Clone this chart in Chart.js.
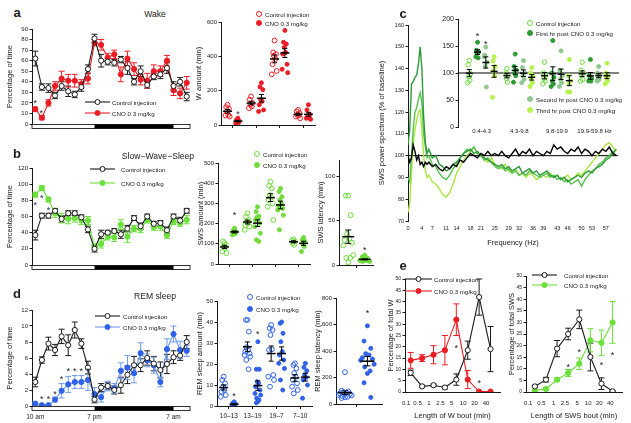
<!DOCTYPE html>
<html>
<head>
<meta charset="utf-8">
<title>CNO sleep figure</title>
<script src="https://cdn.jsdelivr.net/npm/chart.js@4.4.1/dist/chart.umd.min.js"></script>
<style>
  body { margin: 0; width: 631px; height: 423px; position: relative; overflow: hidden; background: #fff;
         font-family: "Liberation Sans", Arial, sans-serif; color: #1a1a1a; }
  canvas { position: absolute; }
  .lbl { position: absolute; white-space: nowrap; transform: translate(-50%, -50%); }
  .letter { font-weight: bold; font-size: 13px; }
  .ttl { font-size: 8.6px; }
  .key { position: absolute; height: 10px; display: flex; align-items: center; font-size: 6.2px; white-space: nowrap; }
</style>
</head>
<body>
<script>
// ---------- data ----------
const hours = [0,1,2,3,4,5,6,7,8,9,10,11,12,13,14,15,16,17,18,19,20,21,22,23];
const timeTicks = [0, 9, 21];
const timeLabels = ['10 am', '7 pm', '7 am'];
const darkPhase = [9, 21];

// a - wake, % of time
const wakeCtrl    = [62,35,34,27,36,31,28,35,52,81,60,59,58,61,53,40,50,37,45,47,53,36,40,26];
const wakeCtrlErr = [7,3,4,3,4,5,3,4,4,4,6,3,3,3,6,3,5,3,3,4,5,4,4,4];
const wakeCno     = [14,6,20,36,43,41,41,38,43,77,75,63,66,47,62,52,42,41,50,50,60,32,29,39];
const wakeCnoErr  = [2,2,3,4,7,6,6,4,5,3,5,4,4,7,7,6,5,7,6,5,5,5,5,6];
const wakeStars   = [[0, 21], [0.9, 12]];

// b - SWS, % of time
const swsCtrl    = [37,61,61,67,57,64,64,59,44,20,38,40,42,38,45,58,48,60,51,52,43,60,55,67];
const swsCtrlErr = [6,3,3,3,4,3,3,3,4,4,5,3,3,5,4,3,4,3,3,3,4,3,4,3];
const swsCno     = [87,95,81,64,58,57,58,55,55,22,26,35,34,50,35,45,45,56,47,48,37,54,52,56];
const swsCnoErr  = [3,3,3,5,6,6,5,5,5,4,5,4,5,6,7,4,5,4,4,5,4,4,4,5];
const swsStars   = [[0, 76], [1, 85], [2, 70]];

// d - REM, % of time
const remCtrl    = [3.0,5.75,7.8,7.0,8.7,7.6,9.5,7.8,4.8,0.8,2.3,2.5,2.0,2.6,3.9,5.1,5.1,6.0,5.3,4.5,5.25,6.1,6.3,8.0];
const remCtrlErr = [0.6,0.4,0.8,0.7,0.9,1.3,1.0,0.6,0.8,0.4,0.5,0.4,0.5,1.0,1.1,1.1,0.8,0.9,0.9,1.0,1.2,0.8,0.6,0.8];
const remCno     = [0.3,0.1,0.1,0.8,1.9,2.7,3.0,3.0,3.25,1.5,1.1,2.5,2.2,4.4,4.8,4.1,6.6,5.7,5.1,3.0,7.1,9.0,7.0,6.9];
const remCnoErr  = [0.2,0.1,0.1,0.3,0.9,1.0,0.8,0.8,1.3,0.8,0.6,0.6,0.6,1.0,1.5,1.2,1.3,0.8,1.0,0.6,1.3,1.0,1.1,0.7];
const remStars   = [[1, 1.0], [2, 1.0], [3, 1.7], [4, 3.5], [5, 4.6], [6, 4.6], [7, 4.6], [8, 4.6]];

// amounts per time block (min)
const blocks = ['10–13', '13–19', '19–7', '7–10'];
const blockPos = [1, 2, 3, 4];
const wAmtCtrl = [[118,104,95,79,59,55,49],[167,148,128,118,108,98],[492,423,413,403,384,354,315,295],[88,79,69,59,55,49,39]];
const wAmtCno  = [[40,30,22,18,14,10],[246,222,206,148,138,118,88,79],[551,482,472,452,423,413,354,325,305],[118,88,62,52,45,39,33]];
const sAmtCtrl = [[103,112,95,87,78,62,54],[251,234,218,210,202,193,185,169],[407,387,374,341,329,317,300,284,218],[123,117,112,103,95]];
const sAmtCno  = [[177,167,161,154,150,144],[283,259,237,231,225,218,202,185,152,120,112],[374,358,333,317,300,287,275,267,242,169],[131,120,112,102,87,62]];
const rAmtCtrl = [[14,12.4,10.8,9.2,7.6,6.8,5.2,4.4],[41,41,35.4,28,26.7,25.9,25,24.3,23.5,21.9,17.5],[38.6,37,36.2,33.8,27,26.7,14.8,14,12.4,9.2],[20.3,19.5,17.9,15.6,14,12.4,10.8,9.2,7.6,6]];
const rAmtCno  = [[2,1.3,1,0.5,0.2,0],[30.6,17.5,17.5,11.6,10.8,9.2,7.6,6,5.2,3.7,2.9,2.1,1.5],[40,39.4,34.6,30.6,25.9,24.3,21.9,20.3,17.9,12.4,7.6],[20.3,18.4,16.8,14.8,13.6,12.4,10,3.7]];

// latencies (min)
const swsLatCtrl = [78,78,56,35,30,28,25,22,11,8,8,3];
const swsLatCno  = [11,9,8,7,6,6,5,5,4,4,5,6];
const remLatCtrl = [240,100,95,90,85,80,75,70,65,60,55,50,45];
const remLatCno  = [590,475,420,380,370,350,340,330,300,280,250,230,160,50];

// c - SWS power spectrum (% of baseline)
const freqs = [0,0.5,1,1.5,2,2.5,3,3.5,4,4.5,5,5.5,6,7,8,9,10,11,12,13,14,15,16,17,18,19,20,21,22,23,24,25,26,27,28,29,30,31,32,33,34,35,36,37,38,39,40,41,42,43,44,45,46,47,48,49,50,51,52,53,54,55,56,57,58,59,60];
const freqTicks = [0,4,7,11,14,18,21,25,29,32,36,39,43,46,50,53,57];
const specCtrl = [100,97,99,105,102,98,100,96,97,95,97,96,97,
  95,96,94,93,95,94,96,95,98,97,99,101,100,99,101,100,102,100,101,100,102,100,99,101,103,100,102,101,103,100,
  102,101,100,102,101,105,103,104,102,101,103,102,104,101,103,102,100,102,101,103,102,104,101,100];
const specH1 = [105,112,133,134,136,137,142,150,140,118,106,101,103,
  99,100,96,95,93,94,96,97,99,101,102,103,101,102,100,99,98,97,96,95,96,94,95,93,94,95,92,93,94,92,
  93,91,92,93,91,90,91,89,90,88,89,90,91,90,92,93,92,94,95,96,98,99,101,103];
const specH2 = [90,88,100,112,120,122,126,129,124,110,104,99,100,
  96,95,92,90,89,91,94,96,99,101,103,102,104,101,100,98,99,97,95,94,95,93,94,92,93,91,92,91,93,92,
  91,90,91,92,90,91,89,90,88,89,87,88,89,86,89,91,93,94,96,97,99,100,102,100];
const specH3 = [74,78,92,105,112,116,120,121,112,100,93,90,91,
  88,87,85,82,81,83,87,92,95,98,100,102,104,101,100,98,97,99,96,95,94,96,93,92,94,91,92,90,92,91,
  89,90,91,90,92,90,91,89,90,91,89,90,92,91,93,95,97,99,101,103,105,106,104,102];

// c inset - band power per animal
const bands = ['0.4-4.3', '4.3-9.8', '9.8-19.9', '19.9-59.8 Hz'];
const bandCtrl = [[123,115,99,93,86,82],[108,100,95,90,83],[120,100,95,90,85,80],[120,105,100,95,88,85]];
const bandH1   = [[157,142,139,136,128,130],[135,112,105,100,95,83],[160,100,92,85,80,75],[125,95,90,88,85,85]];
const bandH2   = [[148,133,120,112,74,130],[123,110,100,95,88,82],[141,105,95,88,82,75],[112,100,95,92,88,85]];
const bandH3   = [[130,122,112,104,95,55],[110,100,95,90,82,75],[125,95,85,80,65,65],[118,100,95,92,85,80]];

// e - bout length distributions
const boutLabels = ['0.1', '0.5', '1', '2.5', '5', '10', '20', '40'];
const boutPos = [0.5,1.5,2.5,3.5,4.5,5.5,6.5,7.5];
const wBoutCtrl    = [8.5,2.5,3.0,2.0,5.5,18.5,42,19];
const wBoutCtrlErr = [1.2,0.5,0.5,0.6,2.5,4,8,10];
const wBoutCno     = [14,15,16.5,18.5,32,5.5,0.2,0.2];
const wBoutCnoErr  = [3.5,1.5,4,6.5,7,4,0,0];
const wBoutStars   = [[4.5, 20], [6.5, 4.5]];
const sBoutCtrl    = [2.4,5.3,18.7,25,31.3,15.1,3.6,0.3];
const sBoutCtrlErr = [0.5,1,3.5,2.5,4,6,2.5,0.2];
const sBoutCno     = [0.7,1.3,5.3,8.2,12.2,22.3,21.2,30];
const sBoutCnoErr  = [0.3,0.5,0.8,1.5,2.5,5,5.5,9];
const sBoutStars   = [[3.5, 11.5], [4.5, 18], [6.5, 12.2], [7.5, 16.6]];

// ---------- styles ----------
const INK = '#1a1a1a';
const RED = '#ec1c24';
const LIME = '#6ae03a';
const BLUE = '#2f62e6', BLUE_LT = '#6f9af0';
const SG = '#6fdc3c';
const H1C = '#2f9a3a', H2C = '#56c24e', H3C = '#a9e83e';
const H1M = '#2d9a35', H2M = '#8fc98f', H3M = '#b6f24c';
const CTRL_OFF = -0.22, CNO_OFF = 0.22;
const jit = [0, -0.5, 0.5, -0.25, 0.25, -0.75, 0.75, -1, 1, -0.4, 0.4];

Chart.defaults.font.family = '"Liberation Sans", Arial, sans-serif';
Chart.defaults.font.size = 6;
Chart.defaults.color = INK;
Chart.defaults.animation = false;
Chart.defaults.events = [];
Chart.defaults.plugins.legend.display = false;
Chart.defaults.plugins.tooltip.enabled = false;

// ---------- plugins ----------
function seg(ctx, x0, y0, x1, y1) { ctx.moveTo(x0, y0); ctx.lineTo(x1, y1); }

const errBars = {
  id: 'errBars',
  beforeDatasetsDraw(chart) {
    const ctx = chart.ctx, xs = chart.scales.x, ys = chart.scales.y;
    chart.data.datasets.forEach(ds => {
      if (!ds.err) return;
      ctx.save();
      ctx.strokeStyle = ds.errColor;
      ctx.lineWidth = 1;
      ctx.beginPath();
      ds.data.forEach((p, j) => {
        const e = ds.err[j];
        if (!e) return;
        const x = xs.getPixelForValue(p.x);
        const a = ys.getPixelForValue(p.y - e), b = ys.getPixelForValue(p.y + e);
        seg(ctx, x, a, x, b);
        seg(ctx, x - 3, a, x + 3, a);
        seg(ctx, x - 3, b, x + 3, b);
      });
      ctx.stroke();
      ctx.restore();
    });
  }
};

const meanBars = {
  id: 'meanBars',
  afterDatasetsDraw(chart, args, opts) {
    if (!opts || !opts.half) return;
    const ctx = chart.ctx, xs = chart.scales.x, ys = chart.scales.y;
    ctx.save();
    ctx.strokeStyle = '#000';
    chart.data.datasets.forEach(ds => {
      if (ds.center === undefined) return;
      const v = ds.data.map(p => p.y), n = v.length;
      const m = v.reduce((s, a) => s + a, 0) / n;
      const sd = Math.sqrt(v.reduce((s, a) => s + (a - m) * (a - m), 0) / (n - 1));
      const se = sd / Math.sqrt(n);
      const x = xs.getPixelForValue(ds.center), y = ys.getPixelForValue(m);
      const a = ys.getPixelForValue(m - se), b = ys.getPixelForValue(m + se);
      ctx.lineWidth = 1.5;
      ctx.beginPath(); seg(ctx, x - opts.half, y, x + opts.half, y); ctx.stroke();
      ctx.lineWidth = 1;
      ctx.beginPath();
      seg(ctx, x, a, x, b);
      seg(ctx, x - opts.cap, a, x + opts.cap, a);
      seg(ctx, x - opts.cap, b, x + opts.cap, b);
      ctx.stroke();
    });
    ctx.restore();
  }
};

const stars = {
  id: 'stars',
  afterDatasetsDraw(chart, args, opts) {
    if (!opts || !opts.pts) return;
    const ctx = chart.ctx, xs = chart.scales.x, ys = chart.scales.y;
    ctx.save();
    ctx.font = '9px "Liberation Sans", Arial, sans-serif';
    ctx.fillStyle = opts.color || '#222';
    ctx.textAlign = 'center';
    ctx.textBaseline = 'middle';
    opts.pts.forEach(p => ctx.fillText('*', xs.getPixelForValue(p[0]), ys.getPixelForValue(p[1]) + 2));
    ctx.restore();
  }
};

const phaseBar = {
  id: 'phaseBar',
  afterDraw(chart, args, opts) {
    if (!opts || !opts.dark) return;
    const ctx = chart.ctx, xs = chart.scales.x;
    const top = chart.chartArea.bottom + 0.5, h = 4;
    const x0 = xs.getPixelForValue(xs.min), x1 = xs.getPixelForValue(xs.max);
    const d0 = xs.getPixelForValue(opts.dark[0]), d1 = xs.getPixelForValue(opts.dark[1]);
    ctx.save();
    ctx.fillStyle = '#fff'; ctx.fillRect(x0, top, x1 - x0, h);
    ctx.fillStyle = '#000'; ctx.fillRect(d0, top, d1 - d0, h);
    ctx.strokeStyle = '#000'; ctx.lineWidth = 0.8; ctx.strokeRect(x0, top, x1 - x0, h);
    ctx.restore();
  }
};

const refLine = {
  id: 'refLine',
  beforeDatasetsDraw(chart, args, opts) {
    if (!opts || opts.value === undefined) return;
    const ctx = chart.ctx, y = chart.scales.y.getPixelForValue(opts.value);
    ctx.save();
    ctx.strokeStyle = '#000'; ctx.lineWidth = 1;
    ctx.beginPath(); seg(ctx, chart.chartArea.left, y, chart.chartArea.right, y); ctx.stroke();
    ctx.restore();
  }
};

Chart.register(errBars, meanBars, stars, phaseBar, refLine);

// ---------- helpers ----------
function build(rect, area, cfg) {
  const cv = document.createElement('canvas');
  cv.width = rect[2]; cv.height = rect[3];
  cv.style.left = rect[0] + 'px'; cv.style.top = rect[1] + 'px';
  cv.style.width = rect[2] + 'px'; cv.style.height = rect[3] + 'px';
  document.body.appendChild(cv);
  const o = cfg.options;
  o.responsive = false;
  o.layout = { padding: { left: 0, top: area[1] - rect[1], right: rect[0] + rect[2] - area[2], bottom: 0 } };
  const yw = area[0] - rect[0], xh = rect[1] + rect[3] - area[3];
  o.scales.x.afterFit = s => { s.height = xh; };
  o.scales.y.afterFit = s => { s.width = yw; };
  return new Chart(cv, cfg);
}

function yScale(min, max, step, title, tick) {
  return {
    type: 'linear', min: min, max: max,
    border: { display: true, color: INK, width: 1 },
    grid: { drawOnChartArea: false, drawTicks: true, tickLength: 2.5, color: INK },
    ticks: { stepSize: step, padding: 1.5, includeBounds: false, font: { size: tick || 6 } },
    title: { display: !!title, text: title || '', padding: 0, font: { size: 7.5 } }
  };
}

function xScale(min, max, at, labels, o) {
  o = o || {};
  return {
    type: 'linear', min: min, max: max,
    afterBuildTicks: s => { s.ticks = at.map(v => ({ value: v })); },
    border: { display: o.border !== false, color: INK, width: 1 },
    grid: { drawOnChartArea: false, drawTicks: !!o.marks, tickLength: 3, color: INK },
    ticks: { display: !!labels, autoSkip: false, maxRotation: 0, padding: o.pad || 2,
             font: { size: o.size || 6 }, callback: (v, i) => labels ? labels[i] : '' },
    title: { display: !!o.title, text: o.title || '', padding: 0, font: { size: 7.5 } }
  };
}

function series(xs, ys, err, color, fill, line, errColor) {
  return {
    data: xs.map((x, i) => ({ x: x, y: ys[i] })),
    err: err, errColor: errColor || color,
    borderColor: line || color, borderWidth: 1.1,
    pointRadius: 2.6, pointBorderWidth: 1,
    pointBackgroundColor: fill, pointBorderColor: color,
    tension: 0
  };
}

function groups(vals, centers, off, w, color, filled, r) {
  return vals.map((g, k) => ({
    data: g.map((v, i) => ({ x: centers[k] + off + w * jit[i % jit.length], y: v })),
    center: centers[k] + off,
    pointRadius: r, pointBorderWidth: 1,
    pointBackgroundColor: filled ? color : 'rgba(255,255,255,0)',
    pointBorderColor: color
  }));
}

function label(text, x, y, cls) {
  const d = document.createElement('div');
  d.className = 'lbl ' + cls;
  d.textContent = text;
  d.style.left = x + 'px'; d.style.top = y + 'px';
  document.body.appendChild(d);
}

function key(cx, cy, text, m) {
  const half = m.half || 3, w = half * 2;
  const d = document.createElement('div');
  d.className = 'key';
  d.style.left = (cx - half) + 'px';
  d.style.top = (cy - 5) + 'px';
  let svg = '<svg width="' + w + '" height="10" style="margin-right:' + (m.gap || 3) + 'px">';
  if (m.line) svg += '<line x1="0" y1="5" x2="' + w + '" y2="5" stroke="' + m.line + '" stroke-width="1.1"/>';
  svg += '<circle cx="' + half + '" cy="5" r="' + (m.r || 2.5) + '" fill="' + m.fill + '" stroke="' + m.stroke + '" stroke-width="1"/></svg>';
  d.innerHTML = svg;
  const s = document.createElement('span');
  s.textContent = text;
  d.appendChild(s);
  document.body.appendChild(d);
}

// ---------- a: wake ----------
build([5, 20, 190, 115], [32, 29, 190, 124], {
  type: 'line',
  data: { datasets: [
    series(hours, wakeCtrl, wakeCtrlErr, INK, '#fff'),
    series(hours, wakeCno, wakeCnoErr, RED, RED)
  ] },
  options: {
    scales: { x: xScale(-0.5, 23.5, timeTicks, null, { border: false }), y: yScale(0, 90, 10, 'Percentage of time') },
    plugins: { phaseBar: { dark: darkPhase }, stars: { pts: wakeStars } }
  }
});

build([194, 5, 126, 130], [221, 22, 315, 125], {
  type: 'scatter',
  data: { datasets: groups(wAmtCtrl, blockPos, CTRL_OFF, 0.12, RED, false, 2.4)
                     .concat(groups(wAmtCno, blockPos, CNO_OFF, 0.12, RED, true, 2)) },
  options: {
    scales: { x: xScale(0.5, 4.5, blockPos, null, { marks: true }), y: yScale(0, 600, 200, 'W amount (min)') },
    plugins: { meanBars: { half: 4.5, cap: 2.5 }, stars: { pts: [[1 + CNO_OFF, 70]] } }
  }
});

// ---------- b: SWS ----------
build([5, 155, 190, 120], [32, 168, 190, 265], {
  type: 'line',
  data: { datasets: [
    series(hours, swsCtrl, swsCtrlErr, INK, '#fff'),
    series(hours, swsCno, swsCnoErr, LIME, LIME)
  ] },
  options: {
    scales: { x: xScale(-0.5, 23.5, timeTicks, null, { border: false }), y: yScale(0, 120, 20, 'Percentage of time') },
    plugins: { phaseBar: { dark: darkPhase }, stars: { pts: swsStars, color: '#1c2450' } }
  }
});

build([196, 148, 119, 127], [218, 163, 310, 264], {
  type: 'scatter',
  data: { datasets: groups(sAmtCtrl, blockPos, CTRL_OFF, 0.12, SG, false, 2.4)
                     .concat(groups(sAmtCno, blockPos, CNO_OFF, 0.12, SG, true, 2)) },
  options: {
    scales: { x: xScale(0.5, 4.5, blockPos, null, { marks: true }), y: yScale(0, 500, 100, 'SWS amount (min)') },
    plugins: { meanBars: { half: 4.5, cap: 2.5 }, stars: { pts: [[1 + CNO_OFF, 250]] } }
  }
});

build([316, 150, 62, 125], [339, 160, 374, 265], {
  type: 'scatter',
  data: { datasets: groups([swsLatCtrl], [1], 0, 0.3, SG, false, 2.4)
                     .concat(groups([swsLatCno], [2], 0, 0.3, SG, true, 2)) },
  options: {
    scales: { x: xScale(0.44, 2.5, [1.5], null, { marks: true }), y: yScale(0, 118, 50, 'SWS latency (min)') },
    plugins: { meanBars: { half: 6, cap: 3 }, stars: { pts: [[2, 19]] } }
  }
});

// ---------- c: spectrum ----------
function spec(vals, color) {
  return { data: freqs.map((f, i) => ({ x: f, y: vals[i] })), borderColor: color, borderWidth: 1.4, pointRadius: 0, tension: 0 };
}
build([377, 10, 245, 237], [408, 25, 618, 221], {
  type: 'line',
  data: { datasets: [spec(specCtrl, '#000'), spec(specH1, H1C), spec(specH2, H2C), spec(specH3, H3C)] },
  options: {
    scales: {
      x: xScale(0, 60.5, freqTicks, freqTicks, { border: false, pad: 4.5, size: 5.5, title: 'Frequency (Hz)' }),
      y: yScale(70, 160, 10, 'SWS power spectrum (% of baseline)', 5.5)
    },
    plugins: { refLine: { value: 100 } }
  }
});

const bandPos = [1, 2, 3, 4];
const subOff = [-0.33, -0.11, 0.11, 0.33];
build([438, 10, 186, 132], [458, 19, 622, 127], {
  type: 'scatter',
  data: { datasets: groups(bandCtrl, bandPos, subOff[0], 0.06, SG, false, 2.2)
    .concat(groups(bandH1, bandPos, subOff[1], 0.06, H1M, true, 2))
    .concat(groups(bandH2, bandPos, subOff[2], 0.06, H2M, true, 2))
    .concat(groups(bandH3, bandPos, subOff[3], 0.06, H3M, true, 2)) },
  options: {
    scales: { x: xScale(0.37, 4.65, bandPos, bands, { border: false, pad: 1, size: 6 }), y: yScale(0, 200, 50, '', 7) },
    plugins: { refLine: { value: 100 }, meanBars: { half: 3.5, cap: 2.5 },
               stars: { pts: [[1 + subOff[1], 172], [1 + subOff[2], 157]] } }
  }
});

// ---------- d: REM ----------
build([5, 295, 190, 128], [32, 310, 190, 406], {
  type: 'line',
  data: { datasets: [
    series(hours, remCtrl, remCtrlErr, INK, '#fff'),
    series(hours, remCno, remCnoErr, BLUE, BLUE, BLUE_LT, BLUE_LT)
  ] },
  options: {
    scales: { x: xScale(-0.5, 23.5, timeTicks, timeLabels, { border: false, pad: 7, size: 6.5 }), y: yScale(0, 12, 2, 'Percentage of time') },
    plugins: { phaseBar: { dark: darkPhase }, stars: { pts: remStars } }
  }
});

build([195, 288, 122, 135], [217, 301, 313, 406], {
  type: 'scatter',
  data: { datasets: groups(rAmtCtrl, blockPos, CTRL_OFF, 0.12, BLUE, false, 2.4)
                     .concat(groups(rAmtCno, blockPos, CNO_OFF, 0.12, BLUE, true, 2)) },
  options: {
    scales: { x: xScale(0.5, 4.5, blockPos, blocks, { marks: true, pad: 3, size: 6.5 }), y: yScale(0, 50, 10, 'REM sleep amount (min)') },
    plugins: { meanBars: { half: 4.5, cap: 2.5 }, stars: { pts: [[1 + CNO_OFF, 5.5], [2 + CNO_OFF, 35]] } }
  }
});

build([313, 285, 74, 138], [336, 298, 383, 404], {
  type: 'scatter',
  data: { datasets: groups([remLatCtrl], [1], 0, 0.3, BLUE, false, 2.4)
                     .concat(groups([remLatCno], [2], 0, 0.3, BLUE, true, 2)) },
  options: {
    scales: { x: xScale(0.6, 2.65, [1.5], null, { marks: true }), y: yScale(0, 800, 200, 'REM sleep latency (min)') },
    plugins: { meanBars: { half: 7, cap: 3 }, stars: { pts: [[2, 700]] } }
  }
});

// ---------- e: bout lengths ----------
build([386, 265, 119, 155], [405, 279, 500, 392], {
  type: 'line',
  data: { datasets: [
    series(boutPos, wBoutCtrl, wBoutCtrlErr, INK, '#fff'),
    series(boutPos, wBoutCno, wBoutCnoErr, RED, RED)
  ] },
  options: {
    scales: {
      x: xScale(0, 8.33, [0.1,1.1,2.1,3.1,4.1,5.1,6.1,7.1], boutLabels, { pad: 8, size: 6, title: 'Length of W bout (min)' }),
      y: yScale(0, 50, 5, 'Percentage of total W', 5)
    },
    plugins: { stars: { pts: wBoutStars } }
  }
});

build([507, 262, 120, 158], [526, 276, 622, 392], {
  type: 'line',
  data: { datasets: [
    series(boutPos, sBoutCtrl, sBoutCtrlErr, INK, '#fff'),
    series(boutPos, sBoutCno, sBoutCnoErr, LIME, LIME)
  ] },
  options: {
    scales: {
      x: xScale(-0.3, 8.35, [-0.1,1.1,2.2,3.2,4.3,5.3,6.3,7.3], boutLabels, { pad: 8, size: 6, title: 'Length of SWS bout (min)' }),
      y: yScale(0, 50, 5, 'Percentage of total SWS', 5)
    },
    plugins: { stars: { pts: sBoutStars } }
  }
});

// ---------- letters, titles, keys ----------
label('a', 17, 12, 'letter');
label('b', 17, 153, 'letter');
label('c', 403, 13, 'letter');
label('d', 17, 293, 'letter');
label('e', 403, 265, 'letter');
label('Wake', 155, 14, 'ttl');
label('Slow−Wave−Sleep', 158, 156, 'ttl');
label('REM sleep', 155, 296, 'ttl');

key(97.5, 102, 'Control injection', { line: INK, stroke: INK, fill: '#fff', half: 12.5, gap: 2 });
key(97.5, 113, 'CNO 0.3 mg/kg', { line: RED, stroke: RED, fill: RED, half: 12.5, gap: 2 });
key(259, 14, 'Control injection', { stroke: RED, fill: '#fff' });
key(259, 23, 'CNO 0.3 mg/kg', { stroke: RED, fill: RED });

key(102.5, 169, 'Control injection', { line: INK, stroke: INK, fill: '#fff', half: 12.5, gap: 6 });
key(102.5, 183, 'CNO 0.3 mg/kg', { line: LIME, stroke: LIME, fill: LIME, half: 12.5, gap: 6 });
key(257, 154, 'Control injection', { stroke: SG, fill: '#fff' });
key(257, 165, 'CNO 0.3 mg/kg', { stroke: SG, fill: SG });

key(530, 23, 'Control injection', { stroke: SG, fill: '#fff' });
key(530, 33, 'First hr post CNO 0.3 mg/kg', { stroke: H1M, fill: H1M });
key(530, 99, 'Second hr post CNO 0.3 mg/kg', { stroke: H2M, fill: H2M });
key(530, 110, 'Third hr post CNO 0.3 mg/kg', { stroke: H3M, fill: H3M });

key(107.5, 316, 'Control injection', { line: INK, stroke: INK, fill: '#fff', half: 12.5, gap: 3 });
key(107.5, 327, 'CNO 0.3 mg/kg', { line: BLUE_LT, stroke: BLUE, fill: BLUE, half: 12.5, gap: 3 });
key(250, 297, 'Control injection', { stroke: BLUE, fill: '#fff' });
key(250, 309, 'CNO 0.3 mg/kg', { stroke: BLUE, fill: BLUE });

key(418.5, 279, 'Control injection', { line: INK, stroke: INK, fill: '#fff', half: 13.5, gap: 2 });
key(418.5, 291, 'CNO 0.3 mg/kg', { line: RED, stroke: RED, fill: RED, half: 13.5, gap: 2 });
key(544.5, 275, 'Control injection', { line: INK, stroke: INK, fill: '#fff', half: 12.5, gap: 7 });
key(544.5, 285, 'CNO 0.3 mg/kg', { line: LIME, stroke: LIME, fill: LIME, half: 12.5, gap: 7 });
</script>
</body>
</html>
